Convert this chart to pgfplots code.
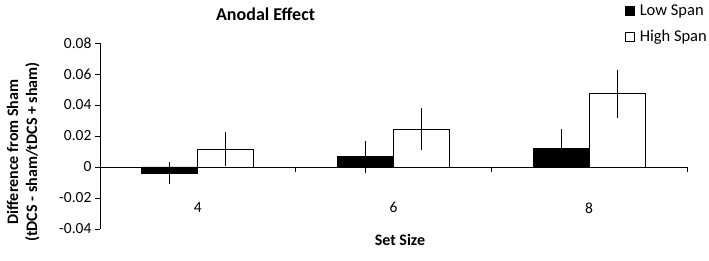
\documentclass[border=0pt]{standalone}
\usepackage{fontspec}
\setmainfont{Carlito}
\usepackage{pgfplots}
\pgfplotsset{compat=1.18}
\begin{document}
\begin{tikzpicture}
\path[use as bounding box] (-100pt,-32pt) rectangle (609pt,229pt);
\begin{axis}[
  at={(0,0)}, anchor=south west,
  scale only axis, width=587pt, height=186pt,
  xmin=0, xmax=3, ymin=-0.04, ymax=0.08,
  axis x line=middle, axis y line=left,
  axis line style={-, line width=0.9pt, black},
  every tick/.style={black, line width=0.9pt},
  tick align=outside, major tick length=5pt, minor tick length=5pt,
  ytick={-0.04,-0.02,0,0.02,0.04,0.06,0.08},
  scaled y ticks=false,
  yticklabel style={/pgf/number format/fixed, /pgf/number format/precision=2, font=\fontsize{15.5}{18}\selectfont},
  /pgf/number format/assume math mode=true,
  xtick={0.5,1.5,2.5}, xticklabels={4,6,8},
  major x tick style={draw=none},
  minor xtick={1,2,3},
  xticklabel style={font=\fontsize{15.5}{18}\selectfont, yshift=-27pt},
  ybar=0pt, bar width=56pt,
  title={Anodal Effect},
  title style={font=\bfseries\fontsize{18}{21}\selectfont, at={(axis description cs:0.282,1.125)}, anchor=center},
  xlabel={Set Size},
  xlabel style={font=\bfseries\fontsize{16}{19}\selectfont, at={(axis description cs:0.511,-0.059)}, anchor=center},
  ylabel={Difference from Sham\\(tDCS - sham/tDCS + sham)},
  ylabel style={font=\bfseries\fontsize{16}{19}\selectfont, align=center, at={(axis description cs:-0.131,0.414)}, anchor=center},
  legend image code/.code={\draw[#1, line width=0.8pt] (0pt,-4.5pt) rectangle (9pt,4.5pt);},
  legend style={draw=none, fill=none, at={(axis description cs:0.894,1.215)}, anchor=north west,
    row sep=9pt, column sep=3pt, inner sep=0pt,
    cells={anchor=west}},
  legend cell align=left,
]
\addplot+[fill=black, draw=black, line width=0.8pt,
  error bars/.cd, y dir=both, y explicit, error mark=none,
  error bar style={line width=0.8pt, black}]
  coordinates {(0.5,-0.0039) +- (0,0.0072) (1.5,0.0066) +- (0,0.0102) (2.5,0.0118) +- (0,0.0125)};
\addlegendentry{\fontsize{16.5}{19}\selectfont Low Span}
\addplot+[fill=white, draw=black, line width=0.8pt,
  error bars/.cd, y dir=both, y explicit, error mark=none,
  error bar style={line width=0.8pt, black}]
  coordinates {(0.5,0.0116) +- (0,0.0112) (1.5,0.0245) +- (0,0.0138) (2.5,0.0472) +- (0,0.0155)};
\addlegendentry{\fontsize{16.5}{19}\selectfont High Span}
\end{axis}
\end{tikzpicture}
\end{document}
